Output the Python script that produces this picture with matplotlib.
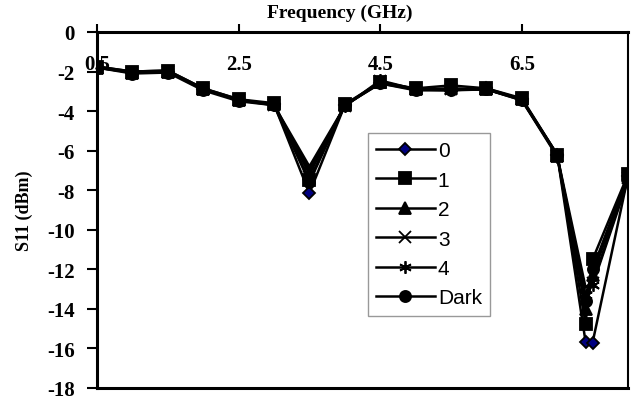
import matplotlib
matplotlib.use("Agg")
import matplotlib.pyplot as plt

freq = [0.5, 1.0, 1.5, 2.0, 2.5, 3.0, 3.5, 4.0, 4.5, 5.0, 5.5, 6.0, 6.5, 7.0, 7.4, 7.5, 8.0]

s11_0 = [-1.75, -2.05, -2.0, -2.9, -3.45, -3.65, -8.15, -3.7, -2.6, -2.9, -2.95, -2.85, -3.4, -6.2, -15.65, -15.7, -7.3]
s11_1 = [-1.75, -2.0, -1.95, -2.85, -3.4, -3.6, -7.5, -3.65, -2.55, -2.85, -2.7, -2.85, -3.35, -6.2, -14.75, -11.5, -7.2]
s11_2 = [-1.8, -2.05, -2.0, -2.9, -3.45, -3.65, -7.2, -3.7, -2.55, -2.9, -2.85, -2.9, -3.4, -6.25, -14.0, -12.3, -7.3]
s11_3 = [-1.8, -2.05, -2.0, -2.9, -3.45, -3.7, -6.8, -3.75, -2.5, -2.9, -2.9, -2.9, -3.4, -6.25, -12.9, -12.7, -7.4]
s11_4 = [-1.75, -2.0, -1.95, -2.85, -3.4, -3.7, -7.0, -3.75, -2.45, -2.9, -2.9, -2.9, -3.45, -6.3, -13.3, -12.8, -7.5]
s11_dark = [-1.8, -2.1, -2.05, -2.95, -3.5, -3.7, -7.6, -3.7, -2.6, -2.95, -2.95, -2.9, -3.45, -6.2, -13.6, -12.0, -7.25]

labels = ["0", "1", "2", "3", "4", "Dark"]
series = [s11_0, s11_1, s11_2, s11_3, s11_4, s11_dark]
markers = ["D", "s", "^", "x", (6, 2, 0), "o"]
face = ["#000080", "black", "black", "black", "black", "black"]
msize = [6.5, 8, 8, 8, 9, 8]

plt.rcParams["font.family"] = ["Liberation Serif", "DejaVu Serif"]
plt.rcParams["axes.unicode_minus"] = False

fig = plt.figure(figsize=(6.42, 4.06), dpi=100)
ax = fig.add_axes([97 / 642, 17 / 406, 531 / 642, 356 / 406])

for ys, lab, m, fc, ms in zip(series, labels, markers, face, msize):
    ax.plot(freq, ys, color="black", lw=1.8, marker=m, markersize=ms,
            markerfacecolor=fc, markeredgecolor="black", markeredgewidth=1.3,
            label=lab)

ax.set_xlim(0.5, 8.0)
ax.set_ylim(-18, 0)
ax.set_xticks([0.5, 2.5, 4.5, 6.5])
ax.set_xticklabels(["0.5", "2.5", "4.5", "6.5"])
ax.set_yticks(range(-18, 1, 2))
ax.xaxis.tick_top()
ax.xaxis.set_label_position("top")
ax.tick_params(axis="x", direction="out", length=6, width=1.5, pad=-36,
               labelsize=15)
ax.tick_params(axis="y", direction="out", length=7, width=1.5, pad=9,
               labelsize=15)
for t in ax.get_xticklabels() + ax.get_yticklabels():
    t.set_fontweight("bold")

ax.set_xlabel("Frequency (GHz)", fontsize=14, fontweight="bold", labelpad=5)
ax.xaxis.set_label_coords((340 - 97) / 531, 1.03)
ax.xaxis.label.set_va("bottom")
ax.set_ylabel("S11 (dBm)", fontsize=13, fontweight="bold", labelpad=10)

for side in ["left", "top", "bottom"]:
    ax.spines[side].set_linewidth(2.2)
ax.spines["right"].set_linewidth(1.5)

leg = ax.legend(loc="upper left", bbox_to_anchor=(368 / 642, 1 - 134 / 406),
                bbox_transform=fig.transFigure, frameon=True, fancybox=False,
                edgecolor="#808080", handlelength=2.8, handletextpad=0.15,
                labelspacing=0.5, borderpad=0.4, borderaxespad=0,
                prop={"family": "Liberation Sans", "size": 15})
leg.get_frame().set_linewidth(1.0)

fig.savefig("out.png", dpi=100)
